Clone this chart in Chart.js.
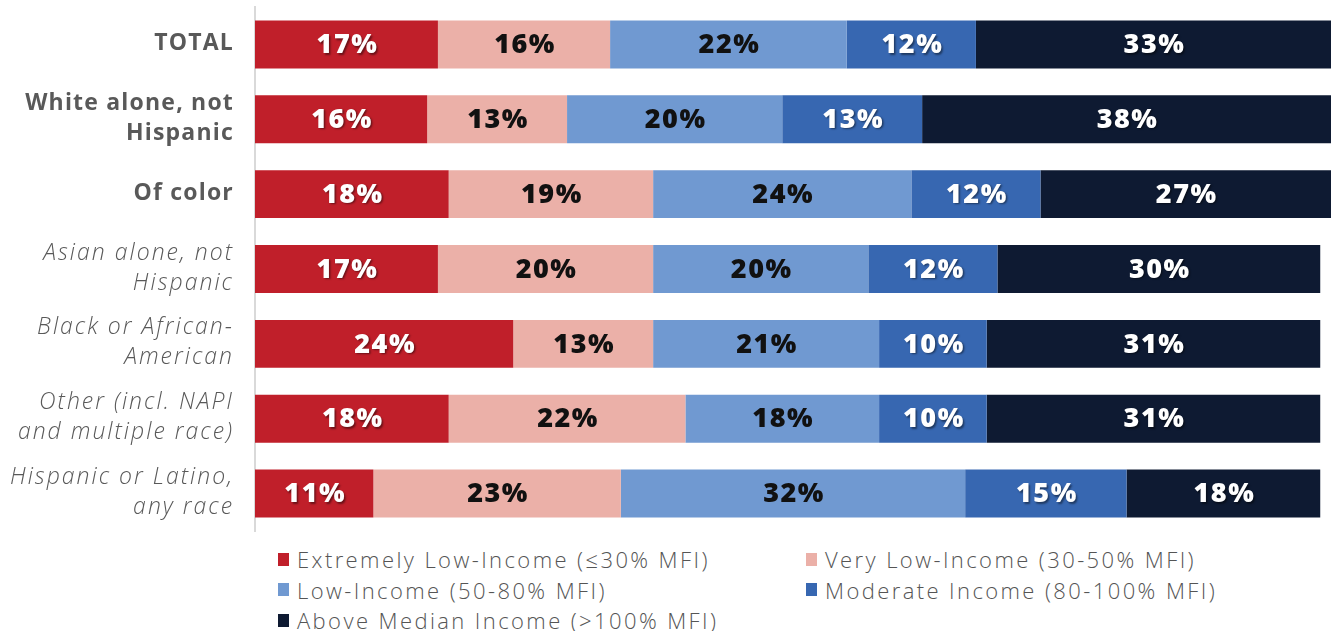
<!DOCTYPE html>
<html>
<head>
<meta charset="utf-8">
<script src="https://cdn.jsdelivr.net/npm/chart.js@4/dist/chart.umd.min.js"></script>
<style>
  html, body { margin: 0; padding: 0; background: #ffffff; }
  #wrap { position: relative; width: 1331px; height: 535px; }
  #legend {
    display: grid;
    grid-template-columns: 528px 520px;
    margin-left: 278px;
    margin-top: 13px;
    row-gap: 8.5px;
    font-family: "Open Sans", sans-serif;
    font-weight: 300;
    font-size: 22px;
    color: #555555;
    letter-spacing: 2.4px;
  }
  .item { display: flex; align-items: center; height: 22px; white-space: nowrap; }
  .swatch { width: 11px; height: 13px; margin-right: 8px; flex: none; }
</style>
</head>
<body>
<div id="wrap"><canvas id="chart"></canvas></div>
<div id="legend"></div>
<script>
// Household income groups by race / ethnicity, share of households (%)
const categories = [
  ["TOTAL"],
  ["White alone, not", "Hispanic"],
  ["Of color"],
  ["Asian alone, not", "Hispanic"],
  ["Black or African-", "American"],
  ["Other (incl. NAPI", "and multiple race)"],
  ["Hispanic or Latino,", "any race"]
];
// the first three rows are headline groups, written in bold
const headlineRows = [true, true, true, false, false, false, false];

const seriesNames = [
  "Extremely Low-Income (\u226430% MFI)",
  "Very Low-Income (30-50% MFI)",
  "Low-Income (50-80% MFI)",
  "Moderate Income (80-100% MFI)",
  "Above Median Income (>100% MFI)"
];
const extremelyLow = [17, 16, 18, 17, 24, 18, 11];
const veryLow      = [16, 13, 19, 20, 13, 22, 23];
const lowIncome    = [22, 20, 24, 20, 21, 18, 32];
const moderate     = [12, 13, 12, 12, 10, 10, 15];
const aboveMedian  = [33, 38, 27, 30, 31, 31, 18];

const seriesColors = ["#C01F2A", "#EBB0A8", "#7099D1", "#3767B1", "#0E1A32"];
const labelColors  = ["#ffffff", "#111111", "#111111", "#ffffff", "#ffffff"];

const seriesValues = [extremelyLow, veryLow, lowIncome, moderate, aboveMedian];

const datasets = seriesValues.map((vals, i) => ({
  label: seriesNames[i],
  data: vals,
  backgroundColor: seriesColors[i],
  borderWidth: 0,
  categoryPercentage: 1,
  barPercentage: 0.64
}));

// Writes each segment's percentage in the middle of its bar
const segmentLabels = {
  id: "segmentLabels",
  afterDatasetsDraw(chart) {
    const ctx = chart.ctx;
    ctx.save();
    ctx.font = "800 27px 'Open Sans', sans-serif";
    ctx.textAlign = "center";
    ctx.textBaseline = "middle";
    if ("letterSpacing" in ctx) ctx.letterSpacing = "1.5px";
    chart.data.datasets.forEach((ds, di) => {
      const meta = chart.getDatasetMeta(di);
      meta.data.forEach((bar, i) => {
        const cx = (bar.x + bar.base) / 2;
        const white = labelColors[di] === "#ffffff";
        ctx.shadowColor = white ? "rgba(0,0,0,0.45)" : "rgba(0,0,0,0)";
        ctx.shadowOffsetX = 1.5;
        ctx.shadowOffsetY = 1.5;
        ctx.shadowBlur = 2;
        ctx.fillStyle = labelColors[di];
        ctx.fillText(ds.data[i] + "%", cx + 1, bar.y + 1);
      });
    });
    ctx.restore();
  }
};

// Category names to the left of the axis, placed at each category's pixel
const categoryLabels = {
  id: "categoryLabels",
  afterDraw(chart) {
    const ctx = chart.ctx;
    const yScale = chart.scales.y;
    const right = yScale.right - 21;
    ctx.save();
    ctx.textAlign = "right";
    ctx.textBaseline = "middle";
    ctx.fillStyle = "#595959";
    categories.forEach((lines, i) => {
      const y = yScale.getPixelForValue(i);
      if (headlineRows[i]) {
        ctx.font = "700 23px 'Open Sans', sans-serif";
        if ("letterSpacing" in ctx) ctx.letterSpacing = "1.2px";
      } else {
        ctx.font = "italic 300 23px 'Open Sans', sans-serif";
        if ("letterSpacing" in ctx) ctx.letterSpacing = "2px";
      }
      const lh = 30;
      const top = y - 1 - (lines.length - 1) * lh / 2;
      lines.forEach((t, k) => ctx.fillText(t, right, top + k * lh));
    });
    ctx.restore();
  }
};

const chart = new Chart(document.getElementById("chart"), {
  type: "bar",
  data: { labels: categories.map(l => l.join(" ")), datasets },
  plugins: [segmentLabels, categoryLabels],
  options: {
    indexAxis: "y",
    responsive: true,
    maintainAspectRatio: false,
    animation: false,
    layout: { padding: { top: 7, bottom: 4, left: 0, right: 0 } },
    plugins: {
      legend: { display: false },
      tooltip: { enabled: false }
    },
    scales: {
      x: {
        stacked: true,
        min: 0,
        max: 100,
        display: false
      },
      y: {
        stacked: true,
        grid: { display: false, drawTicks: false },
        border: { display: true, color: "#D9D9D9", width: 2 },
        ticks: { display: false },
        afterFit(scale) {
          scale.width = 255;
          scale.paddingTop = 0;
          scale.paddingBottom = 0;
        }
      }
    }
  }
});

// Legend in two columns beneath the chart
const legendEl = document.getElementById("legend");
seriesNames.forEach((name, i) => {
  const item = document.createElement("div");
  item.className = "item";
  const sw = document.createElement("span");
  sw.className = "swatch";
  sw.style.background = seriesColors[i];
  const tx = document.createElement("span");
  tx.textContent = name;
  item.appendChild(sw);
  item.appendChild(tx);
  legendEl.appendChild(item);
});
</script>
</body>
</html>
